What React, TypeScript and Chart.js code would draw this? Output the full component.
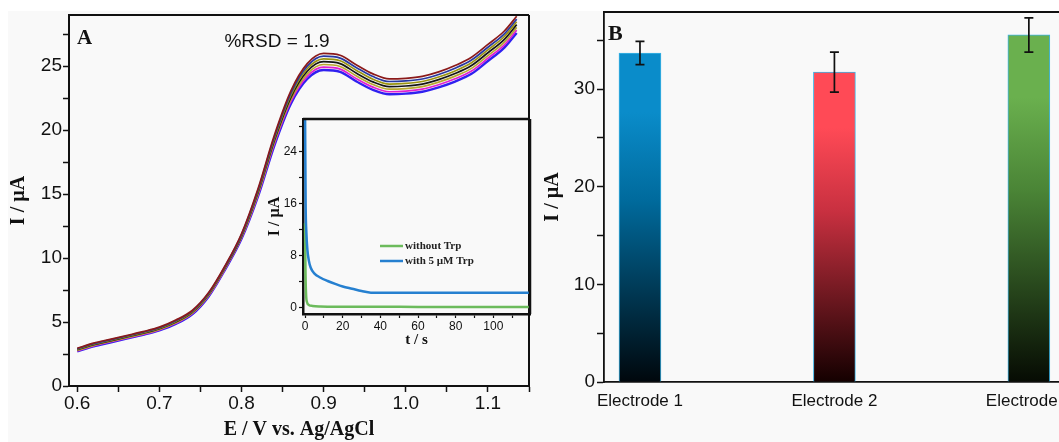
import React, { useEffect, useRef } from "react";
import { Chart, registerables } from "chart.js";

Chart.register(...registerables);

// ---------- Panel A: repeated DPV scans ----------
const potentials = [0.6, 0.62, 0.64, 0.66, 0.68, 0.7, 0.72, 0.74, 0.76, 0.78, 0.8, 0.82, 0.84, 0.86, 0.88, 0.9, 0.92, 0.94, 0.96, 0.98, 1.0, 1.02, 1.04, 1.06, 1.08, 1.1, 1.12, 1.135];
const scan1 = [2.95, 3.35, 3.65, 3.95, 4.25, 4.6, 5.15, 5.9, 7.3, 9.4, 11.9, 15.4, 19.6, 23.05, 25.2, 26.0, 25.85, 25.1, 24.4, 24.0, 24.05, 24.2, 24.55, 25.05, 25.7, 26.7, 27.75, 28.9];
const scan2 = [2.91, 3.31, 3.61, 3.91, 4.21, 4.56, 5.1, 5.85, 7.25, 9.35, 11.83, 15.3, 19.47, 22.88, 25.0, 25.78, 25.63, 24.88, 24.19, 23.8, 23.85, 24.0, 24.35, 24.84, 25.48, 26.48, 27.53, 28.68];
const scan3 = [2.87, 3.27, 3.57, 3.87, 4.17, 4.52, 5.05, 5.8, 7.2, 9.3, 11.77, 15.2, 19.33, 22.72, 24.8, 25.57, 25.42, 24.67, 23.98, 23.6, 23.65, 23.8, 24.15, 24.63, 25.27, 26.27, 27.32, 28.47];
const scan4 = [2.83, 3.23, 3.53, 3.83, 4.13, 4.48, 5.0, 5.75, 7.15, 9.25, 11.7, 15.1, 19.2, 22.55, 24.6, 25.35, 25.2, 24.45, 23.77, 23.4, 23.45, 23.6, 23.95, 24.42, 25.05, 26.05, 27.1, 28.25];
const scan5 = [2.78, 3.18, 3.48, 3.78, 4.08, 4.43, 4.95, 5.7, 7.1, 9.2, 11.63, 15.0, 19.07, 22.38, 24.4, 25.13, 24.98, 24.23, 23.57, 23.2, 23.25, 23.4, 23.75, 24.22, 24.83, 25.83, 26.88, 28.03];
const scan6 = [2.74, 3.14, 3.44, 3.74, 4.04, 4.39, 4.9, 5.65, 7.05, 9.15, 11.57, 14.9, 18.93, 22.22, 24.2, 24.92, 24.77, 24.02, 23.36, 23.0, 23.05, 23.2, 23.55, 24.01, 24.62, 25.62, 26.67, 27.82];
const scan7 = [2.7, 3.1, 3.4, 3.7, 4.0, 4.35, 4.85, 5.6, 7.0, 9.1, 11.5, 14.8, 18.8, 22.05, 24.0, 24.7, 24.55, 23.8, 23.15, 22.8, 22.85, 23.0, 23.35, 23.8, 24.4, 25.4, 26.45, 27.6];
const scans = [scan1, scan2, scan3, scan4, scan5, scan6, scan7];
const scanColors = ["#8B1A1A", "#2838A0", "#9A9410", "#151515", "#B8A830", "#E020D0", "#3020F0"];
const mainXTicks = [0.6, 0.65, 0.7, 0.75, 0.8, 0.85, 0.9, 0.95, 1.0, 1.05, 1.1, 1.15];
const mainYTicks = [0, 2.5, 5, 7.5, 10, 12.5, 15, 17.5, 20, 22.5, 25, 27.5];
const rsdText = "%RSD = 1.9";

// ---------- Inset: chronoamperometry ----------
const timeNoTrp = [0, 0.2, 0.5, 1, 2, 4, 8, 20, 60, 119];
const currentNoTrp = [13, 6, 2.2, 0.8, 0.35, 0.2, 0.12, 0.08, 0.05, 0.02];
const timeTrp = [0, 0.3, 0.7, 1.2, 2, 3, 5, 8, 12, 16, 20, 25, 30, 35, 50, 70, 90, 110, 119];
const currentTrp = [29.5, 16, 11.5, 9.0, 7.2, 6.1, 5.2, 4.6, 4.05, 3.6, 3.2, 2.85, 2.5, 2.25, 2.25, 2.25, 2.25, 2.25, 2.25];
const insetLabels = ["without Trp", "with 5 \u00b5M Trp"];
const insetColors = ["#6CBB5C", "#2680D0"];
const insetXTicks = [0, 10, 20, 30, 40, 50, 60, 70, 80, 90, 100, 110];
const insetYTicks = [0, 4, 8, 12, 16, 20, 24, 28];

// ---------- Panel B: electrodes ----------
const electrodes = ["Electrode 1", "Electrode 2", "Electrode 3"];
const electrodePos = [1, 2, 3];
const currents = [33.7, 31.75, 35.55];
const currentErr = [1.2, 2.05, 1.75];
const barYTicks = [0, 5, 10, 15, 20, 25, 30, 35];
const barTop = ["#0A8CCA", "#FF4A56", "#6AB04E"];
const barMid = ["#006A9C", "#C83040", "#4A8436"];
const barBottom = ["#00070C", "#140000", "#060B03"];

const SANS = "'Liberation Sans', Arial, sans-serif";
const SERIF = "'Liberation Serif', 'Times New Roman', serif";
const INK = "#111111";

Chart.defaults.color = INK;
Chart.defaults.font.family = SANS;

const near = (a: number, b: number) => Math.abs(a - b) < 1e-6;

function fixAxis(size: number, horizontal: boolean) {
  return (s: any) => {
    if (horizontal) s.height = size;
    else s.width = size;
    s.paddingLeft = 0;
    s.paddingRight = 0;
    s.paddingTop = 0;
    s.paddingBottom = 0;
  };
}

function boxPlugin(id: string, width: number, sides: string) {
  return {
    id,
    afterDraw(chart: any) {
      const { ctx, chartArea: a } = chart;
      ctx.save();
      ctx.strokeStyle = INK;
      ctx.lineWidth = width;
      ctx.beginPath();
      if (sides.includes("t")) { ctx.moveTo(a.left, a.top); ctx.lineTo(a.right, a.top); }
      if (sides.includes("r")) { ctx.moveTo(a.right, a.top); ctx.lineTo(a.right, a.bottom); }
      if (sides.includes("l")) { ctx.moveTo(a.left, a.top); ctx.lineTo(a.left, a.bottom); }
      if (sides.includes("b")) { ctx.moveTo(a.left, a.bottom); ctx.lineTo(a.right, a.bottom); }
      ctx.stroke();
      ctx.restore();
    },
  };
}

function mainConfig(): any {
  return {
    type: "line",
    data: {
      datasets: scans.map((s, k) => ({
        label: "scan " + (k + 1),
        data: potentials.map((e, i) => ({ x: e, y: s[i] })),
        borderColor: scanColors[k],
        borderWidth: k === 6 ? 2.4 : 1.7,
        pointRadius: 0,
        cubicInterpolationMode: "monotone",
        fill: false,
      })),
    },
    options: {
      animation: false,
      responsive: false,
      events: [],
      layout: { padding: { top: 15, right: 11, left: 0, bottom: 0 } },
      plugins: { legend: { display: false }, tooltip: { enabled: false } },
      scales: {
        x: {
          type: "linear",
          min: 0.59,
          max: 1.15,
          afterBuildTicks: (s: any) => { s.ticks = mainXTicks.map((v) => ({ value: v })); },
          afterFit: fixAxis(56, true),
          ticks: {
            autoSkip: false,
            maxRotation: 0,
            padding: 0,
            color: INK,
            font: { size: 19, family: SANS },
            callback: (v: number) => (near(v * 10, Math.round(v * 10)) ? v.toFixed(1) : ""),
          },
          grid: { display: true, drawOnChartArea: false, tickLength: 6, tickColor: INK, tickWidth: 1.5 },
          border: { display: true, color: INK, width: 2 },
          title: { display: true, text: "E / V vs. Ag/AgCl", color: INK, font: { size: 20, weight: "bold", family: SERIF }, padding: { top: 0, bottom: 0 } },
        },
        y: {
          type: "linear",
          min: 0,
          max: 29,
          afterBuildTicks: (s: any) => { s.ticks = mainYTicks.map((v) => ({ value: v })); },
          afterFit: fixAxis(69, false),
          ticks: {
            autoSkip: false,
            padding: 1,
            color: INK,
            font: { size: 19, family: SANS },
            callback: (v: number) => (near(v % 5, 0) ? String(v) : ""),
          },
          grid: { display: true, drawOnChartArea: false, tickLength: 6, tickColor: INK, tickWidth: 1.5 },
          border: { display: true, color: INK, width: 2 },
          title: { display: true, text: "I / \u00b5A", color: INK, font: { size: 20, weight: "bold", family: SERIF }, padding: { top: 7, bottom: 0 } },
        },
      },
    },
    plugins: [
      boxPlugin("boxA", 2, "trlb"),
      {
        id: "labelsA",
        afterDraw(chart: any) {
          const { ctx } = chart;
          ctx.save();
          ctx.fillStyle = INK;
          ctx.font = `bold 21px ${SERIF}`;
          ctx.textAlign = "left";
          ctx.textBaseline = "alphabetic";
          ctx.fillText("A", 77, 44);
          ctx.font = `19px ${SANS}`;
          ctx.textAlign = "center";
          ctx.textBaseline = "middle";
          ctx.fillText(rsdText, 277, 42);
          ctx.restore();
        },
      },
    ],
  };
}

function insetConfig(): any {
  return {
    type: "line",
    data: {
      datasets: [
        {
          label: insetLabels[0],
          data: timeNoTrp.map((t, i) => ({ x: t, y: currentNoTrp[i] })),
          borderColor: insetColors[0],
          borderWidth: 2.5,
          pointRadius: 0,
          cubicInterpolationMode: "monotone",
          order: 1,
        },
        {
          label: insetLabels[1],
          data: timeTrp.map((t, i) => ({ x: t, y: currentTrp[i] })),
          borderColor: insetColors[1],
          borderWidth: 2.5,
          pointRadius: 0,
          cubicInterpolationMode: "monotone",
          order: 0,
        },
      ],
    },
    options: {
      animation: false,
      responsive: false,
      events: [],
      layout: { padding: { top: 9, right: 10, left: 0, bottom: 0 } },
      plugins: { legend: { display: false }, tooltip: { enabled: false } },
      scales: {
        x: {
          type: "linear",
          min: -1.1,
          max: 119.5,
          afterBuildTicks: (s: any) => { s.ticks = insetXTicks.map((v) => ({ value: v })); },
          afterFit: fixAxis(36, true),
          ticks: {
            autoSkip: false,
            maxRotation: 0,
            padding: 1,
            color: INK,
            font: { size: 12, family: SANS },
            callback: (v: number) => (v % 20 === 0 && v <= 100 ? String(v) : ""),
          },
          grid: { display: true, drawOnChartArea: false, tickLength: 4, tickColor: INK, tickWidth: 1.2 },
          border: { display: true, color: INK, width: 2.5 },
          title: { display: true, text: "t / s", color: INK, font: { size: 15, weight: "bold", family: SERIF }, padding: { top: 0, bottom: 1 } },
        },
        y: {
          type: "linear",
          min: -1.05,
          max: 29.1,
          afterBuildTicks: (s: any) => { s.ticks = insetYTicks.map((v) => ({ value: v })); },
          afterFit: fixAxis(48, false),
          ticks: {
            autoSkip: false,
            padding: 2,
            color: INK,
            font: { size: 12, family: SANS },
            callback: (v: number) => (v % 8 === 0 ? String(v) : ""),
          },
          grid: { display: true, drawOnChartArea: false, tickLength: 4, tickColor: INK, tickWidth: 1.2 },
          border: { display: true, color: INK, width: 2.5 },
          title: { display: true, text: "I / \u00b5A", color: INK, font: { size: 16, weight: "bold", family: SERIF }, padding: { top: 10, bottom: 0 } },
        },
      },
    },
    plugins: [
      boxPlugin("boxInset", 2.5, "tr"),
      {
        id: "insetLegend",
        afterDraw(chart: any) {
          const { ctx } = chart;
          ctx.save();
          ctx.font = `bold 11px ${SERIF}`;
          ctx.textAlign = "left";
          ctx.textBaseline = "middle";
          insetLabels.forEach((lab, i) => {
            const y = 136 + i * 15;
            ctx.strokeStyle = insetColors[i];
            ctx.lineWidth = 2.5;
            ctx.beginPath();
            ctx.moveTo(125, y);
            ctx.lineTo(148, y);
            ctx.stroke();
            ctx.fillStyle = "#222";
            ctx.fillText(lab, 150, y);
          });
          ctx.restore();
        },
      },
    ],
  };
}

function barConfig(): any {
  return {
    type: "bar",
    data: {
      datasets: [
        {
          label: "I",
          data: electrodePos.map((p, i) => ({ x: p, y: currents[i] })),
          barThickness: 42,
          borderColor: "#3CB4E6",
          borderWidth: 1,
          backgroundColor: (c: any) => {
            const chart = c.chart;
            const i = c.dataIndex ?? 0;
            if (!chart.chartArea || !chart.scales.y) return barTop[i];
            const y0 = chart.scales.y.getPixelForValue(0);
            const y1 = chart.scales.y.getPixelForValue(currents[i]);
            const g = chart.ctx.createLinearGradient(0, y0, 0, y1);
            g.addColorStop(0, barBottom[i]);
            g.addColorStop(0.55, barMid[i]);
            g.addColorStop(0.82, barTop[i]);
            g.addColorStop(1, barTop[i]);
            return g;
          },
        },
      ],
    },
    options: {
      animation: false,
      responsive: false,
      events: [],
      layout: { padding: { top: 12, right: 0, left: 0, bottom: 0 } },
      plugins: { legend: { display: false }, tooltip: { enabled: false } },
      scales: {
        x: {
          type: "linear",
          offset: false,
          min: 0.815,
          max: 3.155,
          afterBuildTicks: (s: any) => { s.ticks = electrodePos.map((v) => ({ value: v })); },
          afterFit: fixAxis(60, true),
          ticks: {
            autoSkip: false,
            maxRotation: 0,
            padding: 9,
            color: INK,
            font: { size: 17, family: SANS },
            callback: (v: number) => electrodes[electrodePos.indexOf(v)] ?? "",
          },
          grid: { display: false, drawTicks: false, offset: false },
          border: { display: true, color: INK, width: 1.8 },
        },
        y: {
          type: "linear",
          min: 0,
          max: 37.9,
          afterBuildTicks: (s: any) => { s.ticks = barYTicks.map((v) => ({ value: v })); },
          afterFit: fixAxis(64, false),
          ticks: {
            autoSkip: false,
            padding: 2,
            color: INK,
            font: { size: 19, family: SANS },
            callback: (v: number) => (v % 10 === 0 ? String(v) : ""),
          },
          grid: { display: true, drawOnChartArea: false, tickLength: 7, tickColor: INK, tickWidth: 1.5 },
          border: { display: true, color: INK, width: 1.8 },
          title: { display: true, text: "I / \u00b5A", color: INK, font: { size: 20, weight: "bold", family: SERIF }, padding: { top: 1, bottom: 0 } },
        },
      },
    },
    plugins: [
      boxPlugin("boxB", 1.8, "t"),
      {
        id: "errorBars",
        afterDatasetsDraw(chart: any) {
          const { ctx, scales } = chart;
          ctx.save();
          ctx.strokeStyle = INK;
          ctx.lineWidth = 1.7;
          electrodePos.forEach((p, i) => {
            const px = scales.x.getPixelForValue(p);
            const top = scales.y.getPixelForValue(currents[i] + currentErr[i]);
            const bot = scales.y.getPixelForValue(currents[i] - currentErr[i]);
            ctx.beginPath();
            ctx.moveTo(px, top);
            ctx.lineTo(px, bot);
            ctx.moveTo(px - 4.5, top);
            ctx.lineTo(px + 4.5, top);
            ctx.moveTo(px - 4.5, bot);
            ctx.lineTo(px + 4.5, bot);
            ctx.stroke();
          });
          ctx.restore();
        },
      },
      {
        id: "labelB",
        afterDraw(chart: any) {
          const { ctx } = chart;
          ctx.save();
          ctx.fillStyle = INK;
          ctx.font = `bold 22px ${SERIF}`;
          ctx.textAlign = "left";
          ctx.textBaseline = "alphabetic";
          ctx.fillText("B", 68, 40);
          ctx.restore();
        },
      },
    ],
  };
}

export default function App() {
  const aRef = useRef<HTMLCanvasElement>(null);
  const insetRef = useRef<HTMLCanvasElement>(null);
  const bRef = useRef<HTMLCanvasElement>(null);

  useEffect(() => {
    const charts: Chart[] = [];
    if (aRef.current) charts.push(new Chart(aRef.current, mainConfig()));
    if (insetRef.current) charts.push(new Chart(insetRef.current, insetConfig()));
    if (bRef.current) charts.push(new Chart(bRef.current, barConfig()));
    return () => charts.forEach((c) => c.destroy());
  }, []);

  const abs = (left: number, top: number, width: number, height: number): React.CSSProperties => ({
    position: "absolute",
    left,
    top,
    width,
    height,
    display: "block",
  });

  return (
    <div style={{ position: "absolute", left: 0, top: 0, width: 1059, height: 442, background: "#ffffff", overflow: "hidden" }}>
      <div style={{ position: "absolute", left: 8, top: 11, width: 1051, height: 431, background: "#f9f9f9" }} />
      <canvas ref={aRef} width={540} height={442} style={abs(0, 0, 540, 442)} />
      <canvas ref={insetRef} width={285} height={240} style={abs(255, 110, 285, 240)} />
      <canvas ref={bRef} width={519} height={442} style={abs(540, 0, 519, 442)} />
    </div>
  );
}
